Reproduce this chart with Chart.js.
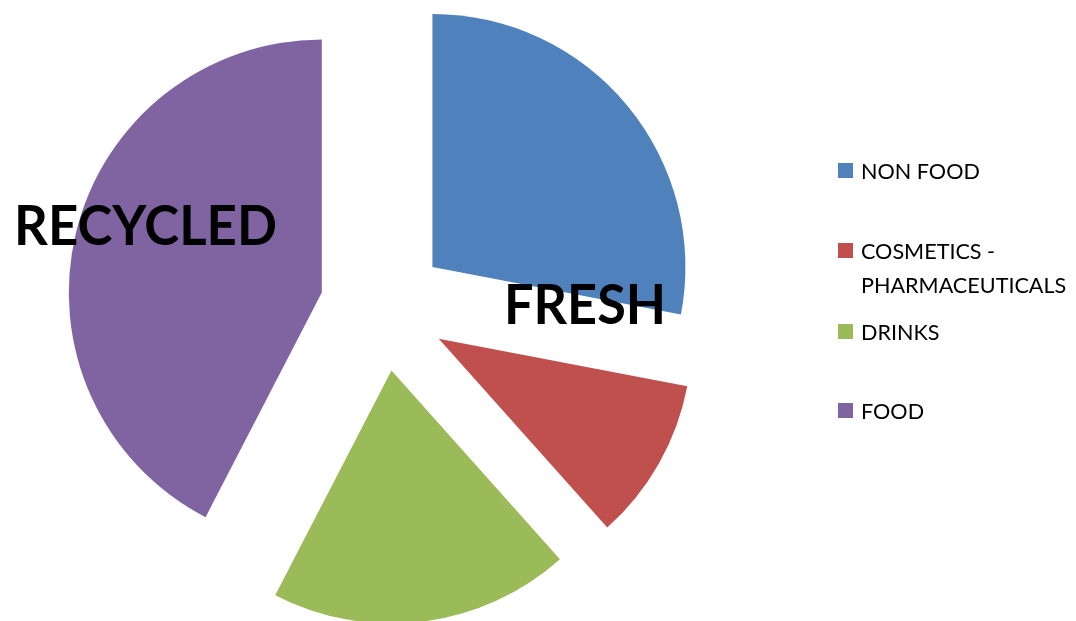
<!DOCTYPE html>
<html>
<head>
<meta charset="utf-8">
<script src="https://cdn.jsdelivr.net/npm/chart.js@4/dist/chart.umd.min.js"></script>
<style>
  html, body { margin: 0; padding: 0; background: #ffffff; overflow: hidden; }
  #wrap { width: 1076px; height: 621px; position: relative; }
</style>
</head>
<body>
<div id="wrap"><canvas id="chart" width="1076" height="621"></canvas></div>
<script>
// Packaging share by product family
const categories = ['NON FOOD', 'COSMETICS - PHARMACEUTICALS', 'DRINKS', 'FOOD'];
const shares = [28, 10.4, 19.2, 42.4];
const sliceColors = ['#4F81BD', '#C0504D', '#9BBB59', '#8064A2'];
const legendLines = [['NON FOOD'], ['COSMETICS -', 'PHARMACEUTICALS'], ['DRINKS'], ['FOOD']];
const callouts = ['RECYCLED', 'FRESH'];

const EXPLODE = 63.5;   // distance each slice is pulled out from the centre
const FONT = 'Lato, "Open Sans", sans-serif';

// Pulls every slice out along its bisector, then lets the arc element draw itself.
const explodePlugin = {
  id: 'explode',
  beforeDatasetDraw(chart, args) {
    const ctx = chart.ctx;
    args.meta.data.forEach(arc => {
      const mid = (arc.startAngle + arc.endAngle) / 2;
      ctx.save();
      ctx.translate(Math.cos(mid) * EXPLODE, Math.sin(mid) * EXPLODE);
      arc.draw(ctx);
      ctx.restore();
    });
    return false;
  }
};

// Legend on the right (one entry wraps onto two lines) and the two bold captions.
const decorPlugin = {
  id: 'decor',
  afterDraw(chart) {
    const ctx = chart.ctx;
    ctx.save();
    ctx.textBaseline = 'alphabetic';
    ctx.textAlign = 'left';

    const boxTops = [163, 243, 324, 403];
    ctx.font = '21.6px ' + FONT;
    legendLines.forEach((lines, i) => {
      ctx.fillStyle = sliceColors[i];
      ctx.fillRect(838, boxTops[i], 15, 15);
      ctx.fillStyle = '#000000';
      lines.forEach((line, j) => {
        ctx.fillText(line, 861, boxTops[i] + 15.5 + j * 34);
      });
    });

    ctx.fillStyle = '#000000';
    ctx.font = 'bold 56px ' + FONT;
    ctx.fillText(callouts[0], 14, 245, 263);
    ctx.fillText(callouts[1], 504, 324, 162);
    ctx.restore();
  }
};

new Chart(document.getElementById('chart'), {
  type: 'pie',
  data: {
    labels: categories,
    datasets: [{
      data: shares,
      backgroundColor: sliceColors,
      borderWidth: 0,
      radius: 253
    }]
  },
  options: {
    responsive: false,
    maintainAspectRatio: false,
    devicePixelRatio: 1,
    animation: false,
    layout: { padding: { left: 0, top: 0, right: 309, bottom: 6 } },
    plugins: {
      legend: { display: false },
      tooltip: { enabled: false }
    }
  },
  plugins: [explodePlugin, decorPlugin]
});
</script>
</body>
</html>
